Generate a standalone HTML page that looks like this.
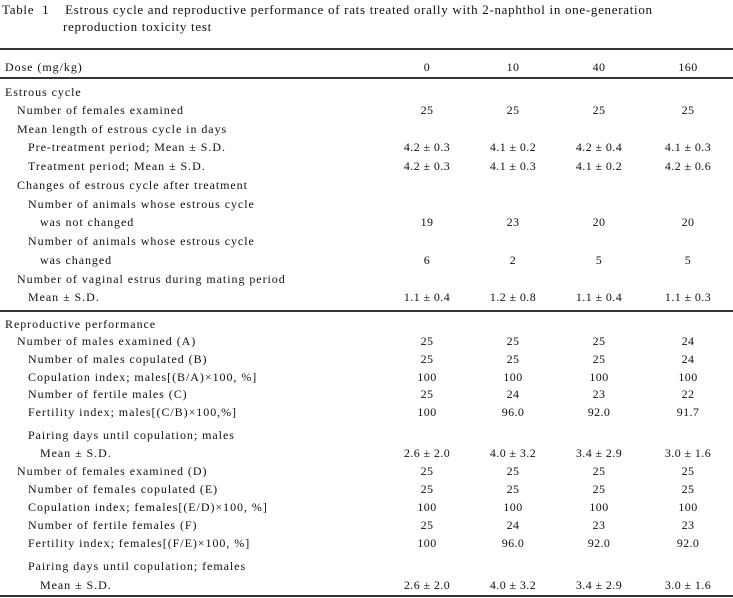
<!DOCTYPE html><html><head><style>
body{margin:0;width:733px;height:598px;background:#fff;position:relative;font-family:"Liberation Serif","Noto Serif CJK SC",serif;font-size:12px;color:#111;overflow:hidden}
.t{position:absolute;white-space:nowrap;line-height:16px;letter-spacing:0.95px}
.v{position:absolute;width:80px;text-align:center;line-height:16px;letter-spacing:0.4px}
.h{position:absolute;left:0;width:733px;background:#333}
</style></head><body>
<div class="t" style="left:2px;top:2px;font-size:13px;letter-spacing:0.7px">Table&nbsp; 1&nbsp;&nbsp;&nbsp;&nbsp;Estrous cycle and reproductive performance of rats treated orally with 2-naphthol in one-generation</div>
<div class="t" style="left:63px;top:19px;font-size:13px;letter-spacing:0.7px">reproduction toxicity test</div>
<div class="h" style="top:48px;height:2px"></div>
<div class="h" style="top:77px;height:2px"></div>
<div class="h" style="top:310px;height:2px"></div>
<div class="h" style="top:595px;height:2px"></div>
<div id="c"></div>
<script>
const cols=[427,513,599,688];
const rows=[
[67,5,"Dose (mg/kg)",["0","10","40","160"]],
[92,5,"Estrous cycle"],
[110,17,"Number of females examined",["25","25","25","25"]],
[129,17,"Mean length of estrous cycle in days"],
[147,28,"Pre-treatment period; Mean ± S.D.",["4.2 ± 0.3","4.1 ± 0.2","4.2 ± 0.4","4.1 ± 0.3"]],
[166,28,"Treatment period; Mean ± S.D.",["4.2 ± 0.3","4.1 ± 0.3","4.1 ± 0.2","4.2 ± 0.6"]],
[185,17,"Changes of estrous cycle after treatment"],
[204,28,"Number of animals whose estrous cycle"],
[222,40,"was not changed",["19","23","20","20"]],
[241,28,"Number of animals whose estrous cycle"],
[260,40,"was changed",["6","2","5","5"]],
[279,17,"Number of vaginal estrus during mating period"],
[297,28,"Mean ± S.D.",["1.1 ± 0.4","1.2 ± 0.8","1.1 ± 0.4","1.1 ± 0.3"]],
[324,5,"Reproductive performance"],
[341,17,"Number of males examined (A)",["25","25","25","24"]],
[359,28,"Number of males copulated (B)",["25","25","25","24"]],
[377,28,"Copulation index; males[(B/A)×100, %]",["100","100","100","100"]],
[394,28,"Number of fertile males (C)",["25","24","23","22"]],
[412,28,"Fertility index; males[(C/B)×100,%]",["100","96.0","92.0","91.7"]],
[435,28,"Pairing days until copulation; males"],
[453,40,"Mean ± S.D.",["2.6 ± 2.0","4.0 ± 3.2","3.4 ± 2.9","3.0 ± 1.6"]],
[471,17,"Number of females examined (D)",["25","25","25","25"]],
[489,28,"Number of females copulated (E)",["25","25","25","25"]],
[507,28,"Copulation index; females[(E/D)×100, %]",["100","100","100","100"]],
[525,28,"Number of fertile females (F)",["25","24","23","23"]],
[543,28,"Fertility index; females[(F/E)×100, %]",["100","96.0","92.0","92.0"]],
[566,28,"Pairing days until copulation; females"],
[585,40,"Mean ± S.D.",["2.6 ± 2.0","4.0 ± 3.2","3.4 ± 2.9","3.0 ± 1.6"]]
];
let h="";
for(const r of rows){h+=`<div class="t" style="left:${r[1]}px;top:${r[0]-8}px">${r[2]}</div>`;
if(r[3])r[3].forEach((v,i)=>h+=`<div class="v" style="left:${cols[i]-40}px;top:${r[0]-8}px">${v}</div>`);}
document.getElementById("c").innerHTML=h;
</script>
</body></html>
